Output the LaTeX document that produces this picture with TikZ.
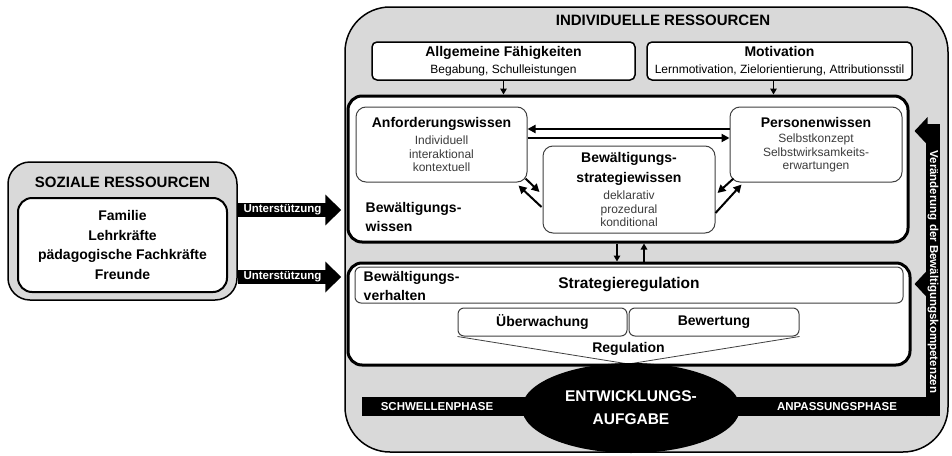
\documentclass[tikz,border=0pt]{standalone}
\usepackage{fontspec}
\setmainfont{Liberation Sans}
\usepackage{tikz}
\usetikzlibrary{calc, shapes.geometric, arrows.meta}
\definecolor{light}{RGB}{217, 217, 217}
\definecolor{soft}{RGB}{60, 60, 60}

\newcommand{\rsTitle}{\fontsize{15}{17}\selectfont\bfseries}
\newcommand{\rsHead}{\fontsize{14}{19}\selectfont\bfseries}
\newcommand{\rsSub}{\fontsize{12}{13.5}\selectfont}
\newcommand{\rsTag}{\fontsize{11.5}{13}\selectfont\bfseries}

\tikzset{
  resbox/.style={draw, line width=1.5pt, fill=light},
  smallbox/.style={draw, line width=1.5pt, fill=white, rounded corners=5pt,
    align=center, inner sep=1pt, font=\rsSub},
  bigbox/.style={draw, line width=3pt, fill=white, rounded corners=14pt},
  knowbox/.style={draw=black!75, line width=1pt, fill=white, rounded corners=10pt,
    align=center, inner sep=1pt, font=\rsSub, text=soft},
  regbox/.style={draw=black!75, line width=1pt, fill=white, rounded corners=6pt,
    font=\rsHead},
  arr/.style={line width=1.4pt, -{Triangle[length=6pt, width=6.5pt]}},
  darr/.style={line width=2pt, -{Triangle[length=8pt, width=8pt]}},
  support/.style={line width=14pt, -{Triangle[length=16pt, width=30pt]}},
  feedback/.style={line width=14pt, -{Triangle[length=13pt, width=27pt]}}
}

\begin{document}
\begin{tikzpicture}[x=1pt, y=-1pt, thick]
  \useasboundingbox (0,0) rectangle (952,455);

  % individuelle ressourcen
  \node[resbox, rounded corners=45pt, minimum width=603pt, minimum height=445pt] (indiv) at (646.5,229.5) {};
  \node[font=\rsTitle] (indivtitle) at (663,20) {INDIVIDUELLE RESSOURCEN};

  \node[smallbox, minimum width=263pt, minimum height=38pt] (allg) at (503.5,61)
    {{\rsHead Allgemeine Fähigkeiten}\\[3pt]Begabung, Schulleistungen};
  \node[smallbox, minimum width=265pt, minimum height=38pt] (motiv) at (779.5,61)
    {{\rsHead Motivation}\\[3pt]Lernmotivation, Zielorientierung, Attributionsstil};

  % bewaeltigungswissen
  \node[bigbox, minimum width=560pt, minimum height=146pt] (wissen) at (628,169) {};
  \node[knowbox, minimum width=171pt, minimum height=75pt] (anford) at (441.5,144.5)
    {{\rsHead\color{black} Anforderungswissen}\\[4pt]Individuell\\interaktional\\kontextuell};
  \node[knowbox, minimum width=172pt, minimum height=75pt] (person) at (816,144.5)
    {{\rsHead\color{black} Personenwissen}\\[2pt]Selbstkonzept\\Selbstwirksamkeits-\\erwartungen};
  \node[knowbox, minimum width=172pt, minimum height=87pt] (strat) at (629,189.5)
    {{\rsHead\color{black} Bewältigungs-}\\[6pt]{\rsHead\color{black} strategiewissen}\\[4pt]deklarativ\\prozedural\\konditional};
  \node[font=\rsHead, align=left, anchor=west] (wissenlabel) at (362,216.5) {Bewältigungs-\\wissen};

  \draw[arr] (allg.south) -- (allg.south |- wissen.north);
  \draw[arr] ([xshift=-6pt]motiv.south) -- ([xshift=-6pt]motiv.south |- wissen.north);

  \draw[darr] (person.west |- 0,129) -- (anford.east |- 0,129);
  \draw[darr] (anford.east |- 0,138) -- (person.west |- 0,138);
  \draw[darr] ([shift={(-2,-4)}]anford.south east) -- ([shift={(-3,2.5)}]strat.west);
  \draw[darr] ([shift={(-1,17.5)}]strat.west) -- ([shift={(-9,3)}]anford.south east);
  \draw[darr] ([shift={(4,-4)}]person.south west) -- ([shift={(2,3.5)}]strat.east);
  \draw[darr] ([shift={(0,23.5)}]strat.east) -- ([shift={(12,2)}]person.south west);

  % bewaeltigungsverhalten
  \node[bigbox, minimum width=562pt, minimum height=102pt] (verhalten) at (629,314) {};
  \draw[arr] ([xshift=-11pt]wissen.south) -- ([xshift=-11pt]wissen.south |- verhalten.north);
  \draw[arr] ([xshift=16pt]wissen.south |- verhalten.north) -- ([xshift=16pt]wissen.south);

  \node[regbox, minimum width=548pt, minimum height=36pt, font=\fontsize{15.5}{17}\selectfont\bfseries] (strategiereg) at (629,285) {Strategieregulation};
  \node[font=\rsHead, align=left, anchor=west] (verhaltenlabel) at (360,285.5) {Bewältigungs-\\verhalten};
  \node[regbox, minimum width=169pt, minimum height=28pt] (ueber) at (542.5,322) {Überwachung};
  \node[regbox, minimum width=170pt, minimum height=28pt] (bewert) at (714,322) {Bewertung};
  \coordinate (apex) at (628.5,364);
  \draw[line width=0.8pt, black!75] (ueber.south west) -- (apex) -- (bewert.south east);
  \node[font=\rsHead] (regulation) at (628.5,349) {Regulation};

  % phasen und entwicklungsaufgabe
  \draw[line width=19pt] (362,406.5) -- (940,406.5);
  \node[font=\rsTag, text=white] (schwelle) at (437,407) {SCHWELLENPHASE};
  \node[font=\rsTag, text=white] (anpass) at (837,407) {ANPASSUNGSPHASE};
  \node[ellipse, fill=black, text=white, inner sep=0pt, minimum width=218pt, minimum height=90pt,
    align=center, font=\fontsize{15.5}{23}\selectfont\bfseries] (aufgabe) at (631,408) {ENTWICKLUNGS-\\AUFGABE};

  \draw[feedback] (933,416) -- (933,131) -- ([xshift=5pt]wissen.east |- 0,131);
  \draw[feedback] (933,284) -- ([xshift=3pt]verhalten.east |- 0,284);
  \node[font=\rsTag, text=white, rotate=-90] (veraend) at (933,272) {Veränderung der Bewältigungskompetenzen};

  % soziale ressourcen
  \node[resbox, rounded corners=22pt, minimum width=229pt, minimum height=138pt] (sozial) at (122.5,231) {};
  \node[font=\rsTitle] (sozialtitle) at (122.5,182) {SOZIALE RESSOURCEN};
  \node[draw, line width=2pt, fill=white, rounded corners=14pt, minimum width=209pt, minimum height=94pt,
    align=center, font=\fontsize{14}{19.5}\selectfont\bfseries] (umfeld) at (122.5,245)
    {Familie\\Lehrkräfte\\pädagogische Fachkräfte\\Freunde};

  \draw[support] (sozial.east |- 0,210) -- ([xshift=-3pt]indiv.west |- 0,210)
    node[midway, xshift=-7pt, font=\rsTag, text=white] (unterst1) {Unterstützung};
  \draw[support] (sozial.east |- 0,277) -- ([xshift=-3pt]indiv.west |- 0,277)
    node[midway, xshift=-7pt, font=\rsTag, text=white] (unterst2) {Unterstützung};
\end{tikzpicture}
\end{document}
